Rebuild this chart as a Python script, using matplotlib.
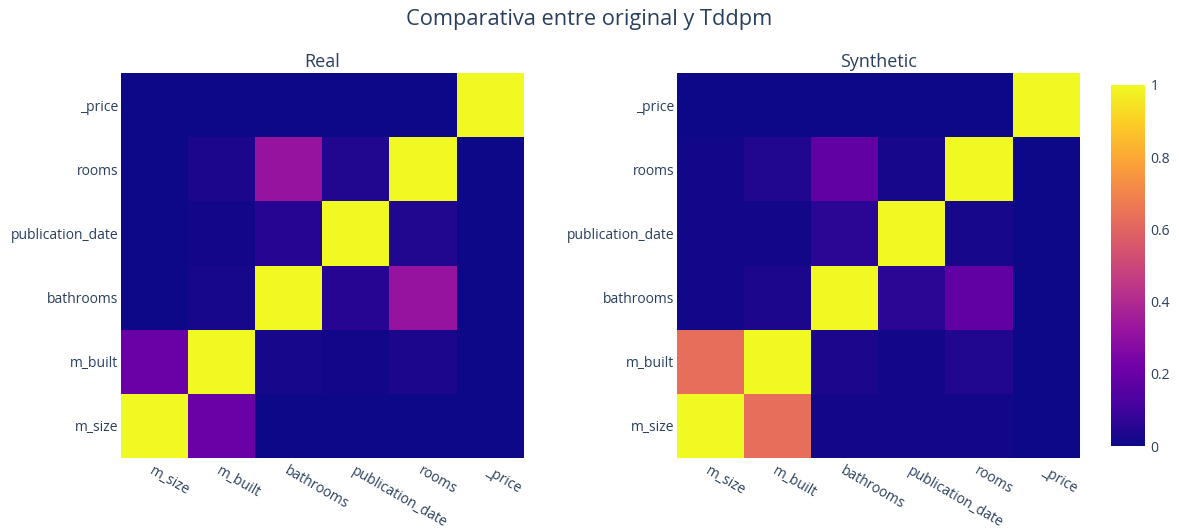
import matplotlib
matplotlib.use("Agg")
import matplotlib.pyplot as plt
from matplotlib.colors import LinearSegmentedColormap
import numpy as np

plt.rcParams['font.family'] = ['Open Sans', 'DejaVu Sans']

labels = ["m_size", "m_built", "bathrooms", "publication_date", "rooms", "_price"]

# rows follow labels order (bottom to top), columns follow labels order
real = [
    [1.00, 0.20, 0.00, 0.00, 0.00, 0.00],
    [0.20, 1.00, 0.02, 0.01, 0.03, 0.00],
    [0.00, 0.02, 1.00, 0.05, 0.32, 0.00],
    [0.00, 0.01, 0.05, 1.00, 0.04, 0.00],
    [0.00, 0.03, 0.32, 0.04, 1.00, 0.00],
    [0.00, 0.00, 0.00, 0.00, 0.00, 1.00],
]
synthetic = [
    [1.00, 0.63, 0.01, 0.015, 0.015, 0.00],
    [0.63, 1.00, 0.03, 0.01, 0.04, 0.00],
    [0.01, 0.03, 1.00, 0.06, 0.18, 0.00],
    [0.015, 0.01, 0.06, 1.00, 0.02, 0.00],
    [0.01, 0.04, 0.18, 0.02, 1.00, 0.00],
    [0.00, 0.00, 0.00, 0.00, 0.00, 1.00],
]
titles = ["Real", "Synthetic"]
cbar_ticks = [0, 0.2, 0.4, 0.6, 0.8, 1]

plasma_stops = ['#0d0887', '#46039f', '#7201a8', '#9c179e', '#bd3786',
                '#d8576b', '#ed7953', '#fb9f3a', '#fdca26', '#f0f921']
cmap = LinearSegmentedColormap.from_list("plotly_plasma", plasma_stops)

W, H = 1179, 529
fig = plt.figure(figsize=(W / 100, H / 100), dpi=100)
txt = '#2a3f5f'

def ax_rect(x0, y0, x1, y1):
    return [x0 / W, 1 - y1 / H, (x1 - x0) / W, (y1 - y0) / H]

axes_px = [(121, 73, 524, 458), (677, 73, 1080, 458)]
im = None
for data, title, rect in zip([real, synthetic], titles, axes_px):
    ax = fig.add_axes(ax_rect(*rect))
    arr = np.array(data)
    im = ax.imshow(arr, cmap=cmap, vmin=0, vmax=1, origin='lower',
                   aspect='auto', interpolation='nearest')
    ax.set_xticks(range(len(labels)))
    ax.set_yticks(range(len(labels)))
    ax.set_xticklabels(labels, rotation=-30, ha='left', rotation_mode='anchor',
                       fontsize=10, color=txt)
    ax.set_yticklabels(labels, fontsize=10, color=txt)
    ax.tick_params(axis='y', length=0, pad=2)
    ax.tick_params(axis='x', length=0, pad=4)
    for s in ax.spines.values():
        s.set_visible(False)
    ax.set_title(title, fontsize=13, color=txt, pad=4)

cax = fig.add_axes(ax_rect(1111, 85, 1145, 446))
cb = fig.colorbar(im, cax=cax, ticks=cbar_ticks)
cb.outline.set_visible(False)
cb.ax.tick_params(length=0, labelsize=10, labelcolor=txt, pad=4)
cb.ax.set_yticklabels(["0", "0.2", "0.4", "0.6", "0.8", "1"])

fig.text(0.5, 1 - 20 / H, "Comparativa entre original y Tddpm", ha='center',
         va='center', fontsize=15.7, color=txt)

fig.savefig("out.png", dpi=100)
